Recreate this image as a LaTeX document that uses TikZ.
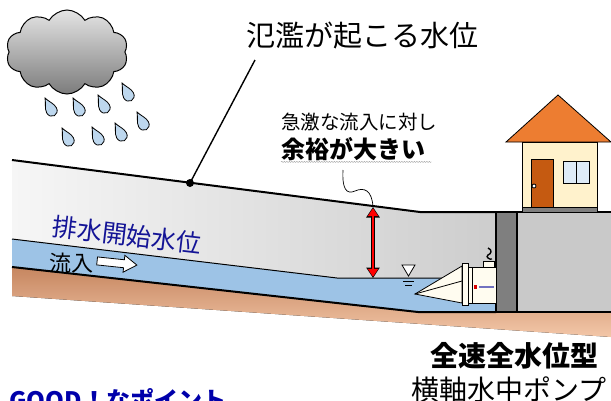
\documentclass[tikz,border=0pt]{standalone}
\usepackage{fontspec}
\setmainfont{Noto Sans CJK JP}
\usetikzlibrary{arrows.meta,shapes.symbols,decorations.pathmorphing}

\definecolor{waterblue}{HTML}{9DC3E6}
\definecolor{dropblue}{HTML}{BDD7EE}
\definecolor{groundlight}{HTML}{F6F6F6}
\definecolor{grounddark}{HTML}{CDCDCD}
\definecolor{blockgray}{HTML}{C9C9C9}
\definecolor{wallgray}{HTML}{7F7F7F}
\definecolor{soiltop}{HTML}{C68660}
\definecolor{soilbot}{HTML}{F3C7A8}
\definecolor{cloudtop}{HTML}{E4E4E4}
\definecolor{cloudbot}{HTML}{7C7C7C}
\definecolor{roof}{HTML}{ED7D31}
\definecolor{housewall}{HTML}{FFF2CC}
\definecolor{door}{HTML}{C55A11}
\definecolor{window}{HTML}{DEEBF7}
\definecolor{pumpwhite}{HTML}{FFFCF0}
\definecolor{navy}{RGB}{20,20,150}
\definecolor{goodblue}{RGB}{0,0,170}

\tikzset{
  drop/.pic={
    \draw[fill=dropblue, line width=0.8pt] (0,0)
      .. controls (1.5,5) and (5.5,9) .. (5.5,14)
      .. controls (5.5,17.5) and (3,20) .. (0,20)
      .. controls (-3,20) and (-5.5,17.5) .. (-5.5,14)
      .. controls (-5.5,9) and (-1.5,5) .. (0,0) -- cycle;
  },
  txt/.style={inner sep=0pt},
  gaparrow/.style={draw=red, line width=2.6pt,
    {Triangle[length=8pt,width=10pt]}-{Triangle[length=8pt,width=10pt]},
    shorten <=1.2pt, shorten >=1.2pt,
    preaction={draw=black, line width=4.4pt,
      {Triangle[length=10.5pt,width=13pt]}-{Triangle[length=10.5pt,width=13pt]},
      shorten <=0pt, shorten >=0pt}},
  wavy/.style={decorate, decoration={snake, amplitude=0.6pt, segment length=2.5pt},
    gray!70, line width=0.4pt}
}

\begin{document}
\begin{tikzpicture}[x=1pt, y=-1pt,
    ground/.style={line width=2pt},
    thinline/.style={line width=0.8pt}]
  \useasboundingbox (0,0) rectangle (611,400);
  \clip (0,0) rectangle (611,400);

  % rain cloud
  \node[cloud, cloud puffs=10, cloud puff arc=120, aspect=1.45, draw, line width=1pt,
    top color=cloudtop, bottom color=cloudbot,
    minimum width=122pt, minimum height=84pt, inner sep=0pt] (cloud) at (67,52) {};
  \pic[rotate=28] at (45,98) {drop};
  \pic[rotate=28] at (73,98) {drop};
  \pic[rotate=28] at (98,95) {drop};
  \pic[rotate=28] at (122,83) {drop};
  \pic[rotate=28] at (62,128) {drop};
  \pic[rotate=28] at (92,127) {drop};
  \pic[rotate=28] at (115,123) {drop};
  \pic[rotate=28] at (137,112) {drop};

  % embankment, channel and soil
  \fill[left color=groundlight, right color=grounddark]
    (12,160) -- (420,212) -- (496,212) -- (496,312) -- (418,312) -- (12,267) -- cycle;
  \fill[waterblue] (12,239) -- (337,278) -- (496,278) -- (496,312) -- (418,312) -- (12,267) -- cycle;
  \draw[line width=1pt] (12,239) -- (337,278) -- (496,278);
  \fill[top color=soiltop, bottom color=soilbot]
    (12,267) -- (418,312) -- (611,312) -- (611,337) -- (12,296) -- cycle;
  \draw[ground] (12,267) -- (418,312) -- (496,312);
  \draw[ground] (12,160) -- (420,212) -- (496,212);

  % pump station wall and block
  \draw[line width=1.5pt, fill=blockgray] (517,212) rectangle (614,312);
  \draw[line width=1.2pt, fill=wallgray] (496,212) rectangle (517,312);

  % house
  \draw[fill=roof, thinline] (506,142) -- (558,95) -- (611,142) -- cycle;
  \draw[fill=housewall, thinline] (522,142) rectangle (597,207);
  \draw[fill=wallgray, thinline] (522,207) rectangle (597,212);
  \draw[fill=door, line width=1pt] (531,159) rectangle (553,207);
  \draw[fill=white, thinline] (534,186) circle (2);
  \draw[fill=window, line width=1pt] (563,161) rectangle (589,183);
  \draw[line width=1pt] (576,161) -- (576,183);

  % horizontal submersible pump
  \draw[fill=pumpwhite, thinline] (415,294) -- (462,266) -- (462,303) -- cycle;
  \draw[thinline] (415,294) -- (462,281);
  \draw[fill=pumpwhite, thinline] (462,263) rectangle (468,305);
  \draw[fill=pumpwhite, thinline] (468,267) rectangle (496,303);
  \draw[thinline] (472,267) -- (472,303);
  \fill[red!85!black] (474,285) rectangle (477,289);
  \fill[navy!60] (479,286) rectangle (494,288);
  \draw[fill=pumpwhite, thinline] (483,261) rectangle (494,267);
  \draw[line width=1.4pt] (488,248) .. controls (493,250) and (491,254) .. (488,255)
    .. controls (485,257) and (490,260) .. (492,259);

  % water level mark
  \draw[fill=white, thinline] (402,265) -- (415,265) -- (408.5,276) -- cycle;
  \draw[thinline] (403,281) -- (414,281);
  \draw[thinline] (405,285) -- (412,285);

  % flood level callout
  \node[circle, fill, inner sep=0pt, minimum size=8pt] (floodpt) at (190,183) {};
  \coordinate (floodtip) at (255,60);
  \draw[line width=1.4pt] (floodpt.center) -- (floodtip);
  \node[txt, font=\fontsize{29}{34}\selectfont] (floodtag) at (362,36) {氾濫が起こる水位};

  % margin between start level and flood level
  \coordinate (gaptop) at (373,207);
  \coordinate (gapbot) at (373,278);
  \draw[gaparrow] (gaptop) -- (gapbot);
  \node[txt, anchor=west, font=\fontsize{19.5}{23}\selectfont] (margintag) at (281,122) {急激な流入に対し};
  \node[txt, anchor=west, font=\bfseries\fontsize{24}{28}\selectfont] (marginbold) at (281,149) {余裕が大きい};
  \draw[wavy] ([yshift=-1pt]marginbold.south west) -- ([yshift=-1pt,xshift=6pt]marginbold.south east);
  \coordinate (squigtop) at (343,170);
  \draw[line width=0.7pt] (squigtop) .. controls (342,188) and (346,195) .. (355,191)
    .. controls (364,187) and (372,190) .. (gaptop);

  % channel labels
  \node[txt, rotate=-6.7, text=navy, font=\fontsize{25}{30}\selectfont] (startlvl) at (127,235) {排水開始水位};
  \node[txt, font=\fontsize{22}{26}\selectfont] (inflow) at (71,263) {流入};
  \begin{scope}[shift={(117,263)}, rotate=-6]
    \draw[fill=white, line width=0.8pt] (-20,-4) -- (7,-4) -- (7,-8.5) -- (20,0)
      -- (7,8.5) -- (7,4) -- (-20,4) -- cycle;
  \end{scope}

  % pump name
  \node[txt, font=\bfseries\fontsize{28}{32}\selectfont] (pumpkind) at (514,356) {全速全水位型};
  \node[txt, anchor=west, font=\fontsize{28}{32}\selectfont] (pumpname) at (411,390) {横軸水中ポンプ};
  \node[txt, anchor=west, text=goodblue, font=\bfseries\fontsize{24}{28}\selectfont] (goodtag) at (9,400) {GOOD！なポイント};
\end{tikzpicture}
\end{document}
